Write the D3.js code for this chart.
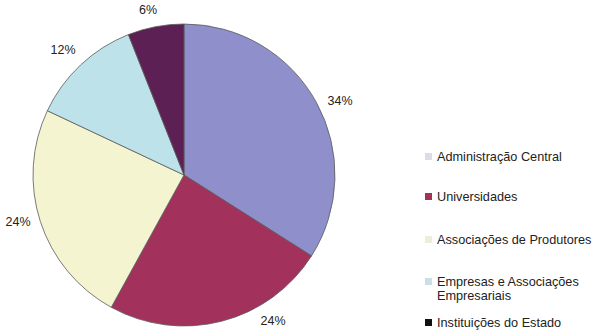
<!DOCTYPE html>
<html><head><meta charset="utf-8">
<script src="https://cdn.jsdelivr.net/npm/d3@7"></script>
<style>body{margin:0;background:#fff}svg{display:block}text{font-family:"Liberation Sans",Arial,sans-serif}</style>
</head><body><svg id="c" width="605" height="332"></svg>
<script>
const categories = ["Administração Central","Universidades","Associações de Produtores","Empresas e Associações Empresariais","Instituições do Estado"];
const values = [34,24,24,12,6];
const labels = ["34%","24%","24%","12%","6%"];
const legendLines = [["Administração Central"],["Universidades"],["Associações de Produtores"],["Empresas e Associações","Empresariais"],["Instituições do Estado"]];
const sliceColors = ["#8e8fcb","#a2325c","#f5f4d0","#bee2e9","#5d2055"];
const legendColors = ["#dcdce6","#a2325c","#eeeed8","#c8dfe3","#111111"];

const svg = d3.select("#c");
const cx = 184, cy = 175, r = 151;
const pie = d3.pie().sort(null).value(d=>d);
const arcs = pie(values);
const arc = d3.arc().innerRadius(0).outerRadius(r);
const g = svg.append("g").attr("transform",`translate(${cx},${cy})`);
g.selectAll("path").data(arcs).join("path")
  .attr("d",arc).attr("fill",(d,i)=>sliceColors[i])
  .attr("stroke","#5a5a5a").attr("stroke-width",0.8);

const labelPos = [[340,105],[273,325],[18,226],[63,54],[148,14]];
svg.selectAll("text.lbl").data(labels).join("text").attr("class","lbl")
  .attr("x",(d,i)=>labelPos[i][0]).attr("y",(d,i)=>labelPos[i][1])
  .attr("text-anchor","middle").attr("font-size",12.5).attr("fill","#222").text(d=>d);

const legendY = [161,201,244,286,327];
const lg = svg.append("g");
legendLines.forEach((lines,i)=>{
  lg.append("rect").attr("x",425).attr("y",legendY[i]-8).attr("width",7).attr("height",7).attr("fill",legendColors[i]);
  const t = lg.append("text").attr("x",437).attr("y",legendY[i]).attr("font-size",12.7).attr("fill","#222");
  lines.forEach((l,j)=>t.append("tspan").attr("x",437).attr("dy",j?14:0).text(l));
});
</script></body></html>
